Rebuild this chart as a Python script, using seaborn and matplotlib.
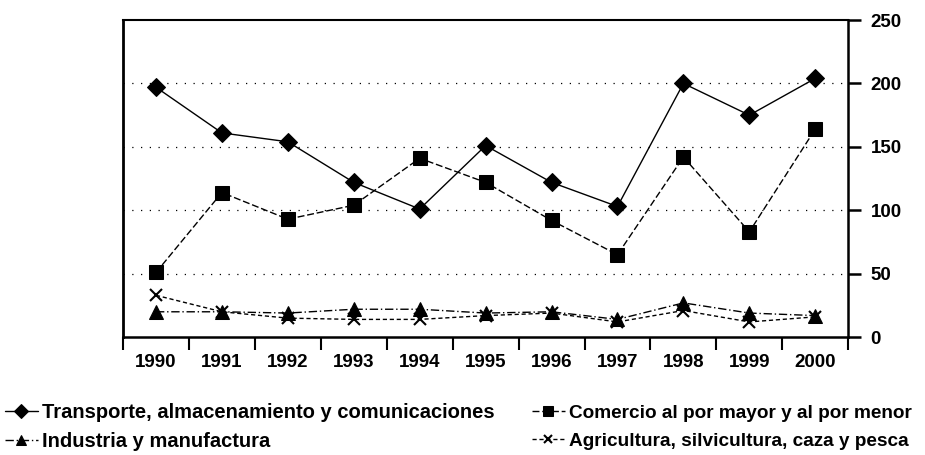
import matplotlib
matplotlib.use("Agg")
import matplotlib.pyplot as plt
import seaborn as sns
import pandas as pd

# values
years = ["1990", "1991", "1992", "1993", "1994", "1995", "1996", "1997", "1998", "1999", "2000"]
transporte = [197, 161, 154, 122, 101, 151, 122, 103, 200, 175, 204]
comercio = [51, 114, 93, 104, 141, 122, 92, 65, 142, 83, 164]
industria = [20, 20, 19, 22, 22, 19, 20, 14, 27, 19, 17]
agricultura = [33, 20, 15, 14, 14, 17, 19, 12, 21, 12, 16]

series_names = [
    "Transporte, almacenamiento y comunicaciones",
    "Comercio al por mayor y al por menor",
    "Industria y manufactura",
    "Agricultura, silvicultura, caza y pesca",
]
yticks = [0, 50, 100, 150, 200, 250]

df = pd.DataFrame({"year": years})
for name, vals in zip(series_names, [transporte, comercio, industria, agricultura]):
    df[name] = vals

sns.set_style("white")
plt.rcParams["font.family"] = ["Liberation Sans", "DejaVu Sans"]
plt.rcParams["font.weight"] = "bold"
plt.rcParams["text.color"] = "black"
plt.rcParams["xtick.color"] = "black"
plt.rcParams["ytick.color"] = "black"

fig = plt.figure(figsize=(9.25, 4.55), dpi=100)
ax = fig.add_axes([0.133, 0.259, 0.784, 0.697])

styles = {
    series_names[0]: dict(marker="D", markersize=9, linestyle="-"),
    series_names[1]: dict(marker="s", markersize=10, linestyle=(0, (5, 2))),
    series_names[2]: dict(marker="^", markersize=10, linestyle=(0, (6, 2, 1, 2))),
    series_names[3]: dict(marker="x", markersize=8, linestyle=(0, (3, 2)), markeredgewidth=1.5),
}

for name in series_names:
    kw = dict(styles[name])
    sns.lineplot(data=df, x="year", y=name, color="black", linewidth=1.0,
                 markeredgecolor="black", sort=False, ax=ax, label=name, **kw)

ax.set_xlim(-0.5, len(years) - 0.5)
ax.set_ylim(0, 250)

# y axis on the right
ax.yaxis.tick_right()
ax.set_yticks(yticks)
ax.set_yticklabels([str(v) for v in yticks], fontsize=13.5, fontweight="bold")
ax.tick_params(axis="y", direction="out", length=9, width=1.8, pad=7, right=True, left=False)

# x ticks at category boundaries, labels at centres
ax.set_xticks([i - 0.5 for i in range(len(years) + 1)])
ax.set_xticklabels([])
ax.set_xticks(range(len(years)), minor=True)
ax.set_xticklabels(years, minor=True, fontsize=13.5, fontweight="bold")
ax.tick_params(axis="x", which="major", direction="out", length=9, width=1.5, bottom=True)
ax.tick_params(axis="x", which="minor", length=0, pad=12)

ax.set_xlabel("")
ax.set_ylabel("")

for v in yticks[1:-1]:
    ax.axhline(v, color="black", linestyle=(0, (1, 6)), linewidth=0.9, zorder=0)

for side in ["left", "right", "top", "bottom"]:
    ax.spines[side].set_visible(True)
    ax.spines[side].set_color("black")
ax.spines["left"].set_linewidth(2)
ax.spines["right"].set_linewidth(1.8)
ax.spines["bottom"].set_linewidth(1.8)
ax.spines["top"].set_linewidth(1.5)

handles, labels = ax.get_legend_handles_labels()
ax.get_legend().remove()
order = [0, 2, 1, 3]  # legend reads row by row
leg = fig.legend([handles[i] for i in order], [labels[i] for i in order],
                 loc="upper left", bbox_to_anchor=(0.005, 0.114),
                 ncol=2, frameon=False, borderpad=0, borderaxespad=0,
                 handlelength=1.64, handletextpad=0.2,
                 columnspacing=1.85, labelspacing=0.5, markerscale=0.75,
                 prop={"size": 14.5, "weight": "bold"})
# second column is a touch narrower in the scan
for t in leg.get_texts()[2:]:
    t.set_fontsize(13.7)

fig.savefig("out.png", dpi=100)
